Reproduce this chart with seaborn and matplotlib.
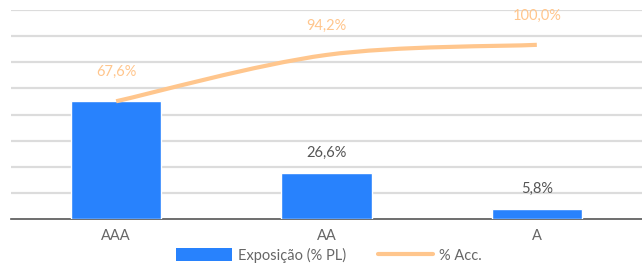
import matplotlib
matplotlib.use("Agg")
import matplotlib.pyplot as plt
from matplotlib.path import Path
from matplotlib.patches import PathPatch
from matplotlib.lines import Line2D
from matplotlib.patches import Patch
import seaborn as sns
import pandas as pd

# dados
ratings = ["AAA", "AA", "A"]
exposicao = [67.6, 26.6, 5.8]
acumulado = [67.6, 94.2, 100.0]

cor_barra = "#2882fd"
cor_linha = "#ffc68d"
cinza = "#666666"

sns.set_style("white")
plt.rcParams["font.family"] = ["Lato", "DejaVu Sans"]

df = pd.DataFrame({"Rating": ratings, "Exposicao": exposicao})

fig = plt.figure(figsize=(6.42, 2.63), dpi=100)
ax = fig.add_axes([11 / 642, 1 - 219 / 263, 631 / 642, 209 / 263])

sns.barplot(data=df, x="Rating", y="Exposicao", color=cor_barra, width=0.43,
            saturation=1, ax=ax, zorder=3)

ax.set_ylim(0, 120)
ax.set_xlim(-0.5, 2.5)
ax.set_yticks(range(15, 121, 15))
ax.yaxis.grid(True, color="#dcdcdc", linewidth=1.6, zorder=0)
ax.set_axisbelow(True)
ax.tick_params(axis="y", left=False, labelleft=False)
ax.set_xlabel("")
ax.set_ylabel("")
for s in ["top", "right", "left"]:
    ax.spines[s].set_visible(False)
ax.spines["bottom"].set_color("#555555")
ax.spines["bottom"].set_linewidth(1.2)
ax.set_xticks([-0.5, 0.5, 1.5, 2.5], minor=True)
ax.tick_params(axis="x", which="major", length=0, labelsize=10.5,
               labelcolor=cinza, pad=7)
ax.tick_params(axis="x", which="minor", length=4, width=1.2, color="#555555")

# linha suavizada (catmull-rom -> bezier)
xs = list(range(len(acumulado)))
pts = list(zip(xs, acumulado))
verts = [pts[0]]
codes = [Path.MOVETO]
for i in range(len(pts) - 1):
    p0 = pts[i - 1] if i > 0 else pts[i]
    p1 = pts[i]
    p2 = pts[i + 1]
    p3 = pts[i + 2] if i + 2 < len(pts) else pts[i + 1]
    c1 = (p1[0] + (p2[0] - p0[0]) / 6, p1[1] + (p2[1] - p0[1]) / 6)
    c2 = (p2[0] - (p3[0] - p1[0]) / 6, p2[1] - (p3[1] - p1[1]) / 6)
    verts += [c1, c2, p2]
    codes += [Path.CURVE4] * 3
ax.add_patch(PathPatch(Path(verts, codes), fill=False, edgecolor=cor_linha,
                       linewidth=3, capstyle="butt", zorder=4))

# rótulos
for x, v in zip(xs, acumulado):
    ax.annotate(f"{v:.1f}%".replace(".", ","), (x, v), xytext=(0, 21),
                textcoords="offset points", ha="center", va="center",
                fontsize=10.5, color=cor_linha, zorder=5)
for x, v in zip(xs[1:], exposicao[1:]):
    ax.annotate(f"{v:.1f}%".replace(".", ","), (x, v), xytext=(0, 14.5),
                textcoords="offset points", ha="center", va="center",
                fontsize=10.5, color="#555555", zorder=5)

handles = [Patch(facecolor=cor_barra, edgecolor="none"),
           Line2D([0], [0], color=cor_linha, linewidth=3)]
fig.legend(handles, ["Exposição (% PL)", "% Acc."], loc="center",
           bbox_to_anchor=(329 / 642, 1 - 255 / 263), ncol=2, frameon=False,
           fontsize=10.5, labelcolor=cinza, handlelength=3.8, handleheight=0.9,
           handletextpad=0.4, columnspacing=2.2, borderpad=0)

fig.savefig("out.png", dpi=100)
